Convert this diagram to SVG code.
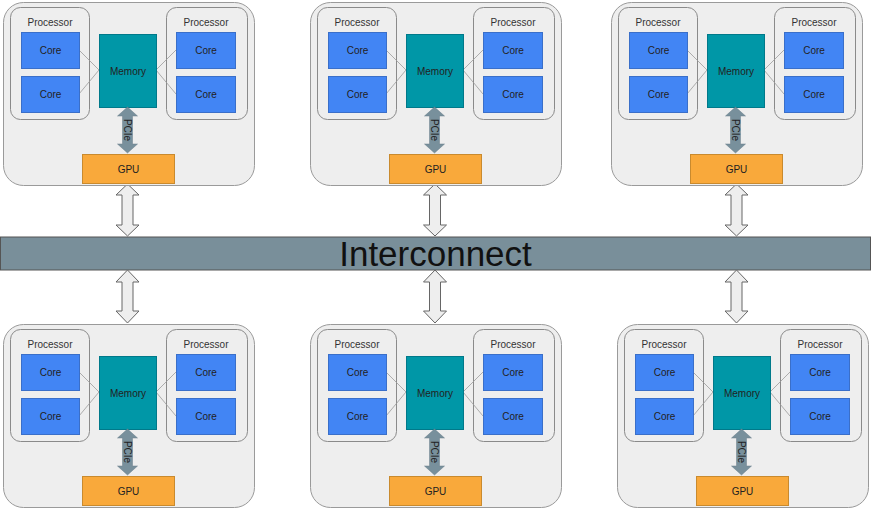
<svg xmlns="http://www.w3.org/2000/svg" xmlns:xlink="http://www.w3.org/1999/xlink" width="871" height="511" viewBox="0 0 871 511">
<defs>
<style>
text{font-family:"Liberation Sans",Arial,sans-serif;font-size:10px;fill:#222;text-anchor:middle}
.outer{fill:#eeeeee;stroke:#9a9a9a;stroke-width:1}
.proc{fill:#eeeeee;stroke:#8a8a8a;stroke-width:1}
.core{fill:#4285f4;stroke:#3a6fc9;stroke-width:1}
.mem{fill:#0097a7;stroke:#00798a;stroke-width:1}
.gpu{fill:#f9a93b;stroke:#c98a2e;stroke-width:1}
.link{stroke:#9a9a9a;stroke-width:0.8;fill:none}
.pcie{fill:#78909c;stroke:#6a7f8a;stroke-width:0.5}
.dbl{fill:#eeeeee;stroke:#666;stroke-width:1}
.bus{fill:#798f9a;stroke:#555;stroke-width:1}
.plabel{fill:#333}
</style>
<path id="arrowTop" d="M0,184 L11.5,195 L5.5,195 L5.5,225 L11.5,225 L0,236 L-11.5,225 L-5.5,225 L-5.5,195 L-11.5,195 Z"/>
<path id="arrowBot" d="M0,270 L11.5,282 L5.5,282 L5.5,311 L11.5,311 L0,323 L-11.5,311 L-5.5,311 L-5.5,282 L-11.5,282 Z"/>
</defs>

<g id="interconnect">
<rect class="bus" x="0.5" y="237" width="870" height="33"/>
<text x="435.5" y="266" style="font-size:35px;fill:#111">Interconnect</text>
</g>

<g id="connectors">
<use xlink:href="#arrowTop" href="#arrowTop" class="dbl" x="127.5"/>
<use xlink:href="#arrowTop" href="#arrowTop" class="dbl" x="435"/>
<use xlink:href="#arrowTop" href="#arrowTop" class="dbl" x="736.5"/>
<use xlink:href="#arrowBot" href="#arrowBot" class="dbl" x="127.5"/>
<use xlink:href="#arrowBot" href="#arrowBot" class="dbl" x="435"/>
<use xlink:href="#arrowBot" href="#arrowBot" class="dbl" x="736.5"/>
</g>

<g id="node-top-left" transform="translate(0,0)">
<rect class="outer" x="3.5" y="2.5" width="251" height="183" rx="20"/>
<rect class="proc" x="10.5" y="7.5" width="79" height="112" rx="10"/>
<text class="plabel" x="50" y="25.5">Processor</text>
<rect class="proc" x="166.5" y="7.5" width="81" height="112" rx="10"/>
<text class="plabel" x="206" y="25.5">Processor</text>
<path class="link" d="M79,50 L99,70 M79,94 L99,70 M156,70 L176,50 M156,70 L176,94"/>
<rect class="core" x="21.5" y="32.5" width="58" height="36"/><text x="50.5" y="54">Core</text>
<rect class="core" x="21.5" y="76.5" width="58" height="36"/><text x="50.5" y="98">Core</text>
<rect class="core" x="176.5" y="32.5" width="59" height="36"/><text x="206" y="54">Core</text>
<rect class="core" x="176.5" y="76.5" width="59" height="36"/><text x="206" y="98">Core</text>
<rect class="mem" x="99.5" y="34.5" width="57" height="73"/><text x="128" y="74.5">Memory</text>
<rect class="gpu" x="82.5" y="154.5" width="92" height="29"/><text x="128.5" y="172.5">GPU</text>
<path class="pcie" d="M127.5,107 L137.5,116 L132.5,116 L132.5,144 L137.5,144 L127.5,153 L117.5,144 L122.5,144 L122.5,116 L117.5,116 Z"/>
<text transform="translate(124,130) rotate(90)" x="0" y="0">PCIe</text>
</g>

<g id="node-top-middle" transform="translate(307,0)">
<rect class="outer" x="3.5" y="2.5" width="251" height="183" rx="20"/>
<rect class="proc" x="10.5" y="7.5" width="79" height="112" rx="10"/>
<text class="plabel" x="50" y="25.5">Processor</text>
<rect class="proc" x="166.5" y="7.5" width="81" height="112" rx="10"/>
<text class="plabel" x="206" y="25.5">Processor</text>
<path class="link" d="M79,50 L99,70 M79,94 L99,70 M156,70 L176,50 M156,70 L176,94"/>
<rect class="core" x="21.5" y="32.5" width="58" height="36"/><text x="50.5" y="54">Core</text>
<rect class="core" x="21.5" y="76.5" width="58" height="36"/><text x="50.5" y="98">Core</text>
<rect class="core" x="176.5" y="32.5" width="59" height="36"/><text x="206" y="54">Core</text>
<rect class="core" x="176.5" y="76.5" width="59" height="36"/><text x="206" y="98">Core</text>
<rect class="mem" x="99.5" y="34.5" width="57" height="73"/><text x="128" y="74.5">Memory</text>
<rect class="gpu" x="82.5" y="154.5" width="92" height="29"/><text x="128.5" y="172.5">GPU</text>
<path class="pcie" d="M127.5,107 L137.5,116 L132.5,116 L132.5,144 L137.5,144 L127.5,153 L117.5,144 L122.5,144 L122.5,116 L117.5,116 Z"/>
<text transform="translate(124,130) rotate(90)" x="0" y="0">PCIe</text>
</g>

<g id="node-top-right" transform="translate(608,0)">
<rect class="outer" x="3.5" y="2.5" width="251" height="183" rx="20"/>
<rect class="proc" x="10.5" y="7.5" width="79" height="112" rx="10"/>
<text class="plabel" x="50" y="25.5">Processor</text>
<rect class="proc" x="166.5" y="7.5" width="81" height="112" rx="10"/>
<text class="plabel" x="206" y="25.5">Processor</text>
<path class="link" d="M79,50 L99,70 M79,94 L99,70 M156,70 L176,50 M156,70 L176,94"/>
<rect class="core" x="21.5" y="32.5" width="58" height="36"/><text x="50.5" y="54">Core</text>
<rect class="core" x="21.5" y="76.5" width="58" height="36"/><text x="50.5" y="98">Core</text>
<rect class="core" x="176.5" y="32.5" width="59" height="36"/><text x="206" y="54">Core</text>
<rect class="core" x="176.5" y="76.5" width="59" height="36"/><text x="206" y="98">Core</text>
<rect class="mem" x="99.5" y="34.5" width="57" height="73"/><text x="128" y="74.5">Memory</text>
<rect class="gpu" x="82.5" y="154.5" width="92" height="29"/><text x="128.5" y="172.5">GPU</text>
<path class="pcie" d="M127.5,107 L137.5,116 L132.5,116 L132.5,144 L137.5,144 L127.5,153 L117.5,144 L122.5,144 L122.5,116 L117.5,116 Z"/>
<text transform="translate(124,130) rotate(90)" x="0" y="0">PCIe</text>
</g>

<g id="node-bottom-left" transform="translate(0,322)">
<rect class="outer" x="3.5" y="2.5" width="251" height="183" rx="20"/>
<rect class="proc" x="10.5" y="7.5" width="79" height="112" rx="10"/>
<text class="plabel" x="50" y="25.5">Processor</text>
<rect class="proc" x="166.5" y="7.5" width="81" height="112" rx="10"/>
<text class="plabel" x="206" y="25.5">Processor</text>
<path class="link" d="M79,50 L99,70 M79,94 L99,70 M156,70 L176,50 M156,70 L176,94"/>
<rect class="core" x="21.5" y="32.5" width="58" height="36"/><text x="50.5" y="54">Core</text>
<rect class="core" x="21.5" y="76.5" width="58" height="36"/><text x="50.5" y="98">Core</text>
<rect class="core" x="176.5" y="32.5" width="59" height="36"/><text x="206" y="54">Core</text>
<rect class="core" x="176.5" y="76.5" width="59" height="36"/><text x="206" y="98">Core</text>
<rect class="mem" x="99.5" y="34.5" width="57" height="73"/><text x="128" y="74.5">Memory</text>
<rect class="gpu" x="82.5" y="154.5" width="92" height="29"/><text x="128.5" y="172.5">GPU</text>
<path class="pcie" d="M127.5,107 L137.5,116 L132.5,116 L132.5,144 L137.5,144 L127.5,153 L117.5,144 L122.5,144 L122.5,116 L117.5,116 Z"/>
<text transform="translate(124,130) rotate(90)" x="0" y="0">PCIe</text>
</g>

<g id="node-bottom-middle" transform="translate(307,322)">
<rect class="outer" x="3.5" y="2.5" width="251" height="183" rx="20"/>
<rect class="proc" x="10.5" y="7.5" width="79" height="112" rx="10"/>
<text class="plabel" x="50" y="25.5">Processor</text>
<rect class="proc" x="166.5" y="7.5" width="81" height="112" rx="10"/>
<text class="plabel" x="206" y="25.5">Processor</text>
<path class="link" d="M79,50 L99,70 M79,94 L99,70 M156,70 L176,50 M156,70 L176,94"/>
<rect class="core" x="21.5" y="32.5" width="58" height="36"/><text x="50.5" y="54">Core</text>
<rect class="core" x="21.5" y="76.5" width="58" height="36"/><text x="50.5" y="98">Core</text>
<rect class="core" x="176.5" y="32.5" width="59" height="36"/><text x="206" y="54">Core</text>
<rect class="core" x="176.5" y="76.5" width="59" height="36"/><text x="206" y="98">Core</text>
<rect class="mem" x="99.5" y="34.5" width="57" height="73"/><text x="128" y="74.5">Memory</text>
<rect class="gpu" x="82.5" y="154.5" width="92" height="29"/><text x="128.5" y="172.5">GPU</text>
<path class="pcie" d="M127.5,107 L137.5,116 L132.5,116 L132.5,144 L137.5,144 L127.5,153 L117.5,144 L122.5,144 L122.5,116 L117.5,116 Z"/>
<text transform="translate(124,130) rotate(90)" x="0" y="0">PCIe</text>
</g>

<g id="node-bottom-right" transform="translate(614,322)">
<rect class="outer" x="3.5" y="2.5" width="251" height="183" rx="20"/>
<rect class="proc" x="10.5" y="7.5" width="79" height="112" rx="10"/>
<text class="plabel" x="50" y="25.5">Processor</text>
<rect class="proc" x="166.5" y="7.5" width="81" height="112" rx="10"/>
<text class="plabel" x="206" y="25.5">Processor</text>
<path class="link" d="M79,50 L99,70 M79,94 L99,70 M156,70 L176,50 M156,70 L176,94"/>
<rect class="core" x="21.5" y="32.5" width="58" height="36"/><text x="50.5" y="54">Core</text>
<rect class="core" x="21.5" y="76.5" width="58" height="36"/><text x="50.5" y="98">Core</text>
<rect class="core" x="176.5" y="32.5" width="59" height="36"/><text x="206" y="54">Core</text>
<rect class="core" x="176.5" y="76.5" width="59" height="36"/><text x="206" y="98">Core</text>
<rect class="mem" x="99.5" y="34.5" width="57" height="73"/><text x="128" y="74.5">Memory</text>
<rect class="gpu" x="82.5" y="154.5" width="92" height="29"/><text x="128.5" y="172.5">GPU</text>
<path class="pcie" d="M127.5,107 L137.5,116 L132.5,116 L132.5,144 L137.5,144 L127.5,153 L117.5,144 L122.5,144 L122.5,116 L117.5,116 Z"/>
<text transform="translate(124,130) rotate(90)" x="0" y="0">PCIe</text>
</g>
</svg>
